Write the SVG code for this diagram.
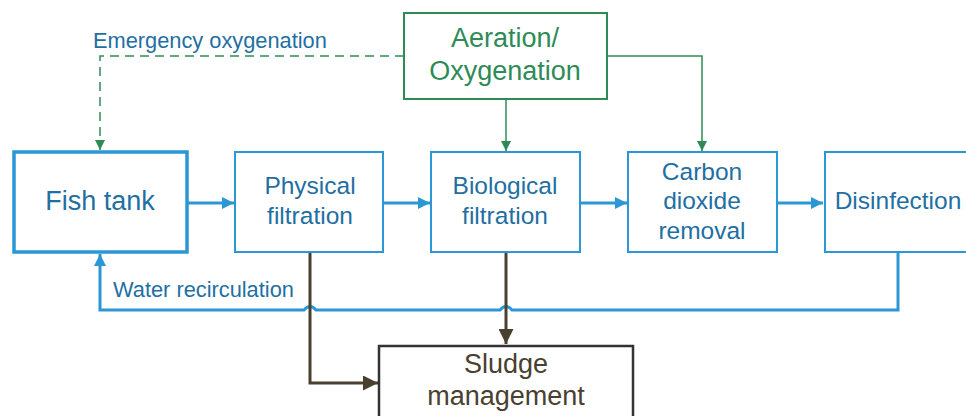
<svg xmlns="http://www.w3.org/2000/svg" width="966" height="416" viewBox="0 0 966 416">
<defs>
<marker id="ab" viewBox="0 0 10 10" refX="10" refY="5" markerWidth="4" markerHeight="4" markerUnits="strokeWidth" orient="auto"><path d="M0,0 L10,5 L0,10 z" fill="#2b97d5"/></marker>
<marker id="ag" viewBox="0 0 10 10" refX="10" refY="5" markerWidth="7" markerHeight="7" markerUnits="strokeWidth" orient="auto"><path d="M0,0 L10,5 L0,10 z" fill="#2e8b57"/></marker>
<marker id="ar" viewBox="0 0 10 10" refX="10" refY="5" markerWidth="5" markerHeight="5" markerUnits="strokeWidth" orient="auto"><path d="M0,0 L10,5 L0,10 z" fill="#4a4030"/></marker>
</defs>
<style>
.bb{fill:#fff;stroke:#2b97d5;stroke-width:2}
.bt{fill:#1f6fa3;font-family:"Liberation Sans",Arial,sans-serif;font-size:24.5px;text-anchor:middle}
.gt{fill:#2e8b57;font-family:"Liberation Sans",Arial,sans-serif;font-size:27px;text-anchor:middle}
.lt{fill:#1f6fa3;font-family:"Liberation Sans",Arial,sans-serif;font-size:21.8px}
.rt{fill:#4a4030;font-family:"Liberation Sans",Arial,sans-serif;font-size:27px;text-anchor:middle}
.cb{fill:none;stroke:#2b97d5;stroke-width:3}
.cg{fill:none;stroke:#2e8b57;stroke-width:1.5}
.cr{fill:none;stroke:#4a4030;stroke-width:3}
</style>
<g id="connectors">
<path class="cg" d="M404,56 H100 V150" stroke-dasharray="9,6" marker-end="url(#ag)"/>
<path class="cg" d="M506,99 V151" marker-end="url(#ag)"/>
<path class="cg" d="M607,56 H702 V151" marker-end="url(#ag)"/>
<path class="cb" d="M188,203 H234" marker-end="url(#ab)"/>
<path class="cb" d="M383,203 H430" marker-end="url(#ab)"/>
<path class="cb" d="M580,203 H627" marker-end="url(#ab)"/>
<path class="cb" d="M777,203 H823" marker-end="url(#ab)"/>
<path class="cb" d="M898,252 V310 H512 Q506,303 500,310 H316 Q310,303 304,310 H100 V254" marker-end="url(#ab)"/>
<path class="cr" d="M310,252 V383 H378" marker-end="url(#ar)"/>
<path class="cr" d="M506,252 V344" marker-end="url(#ar)"/>
</g>
<g id="aeration">
<rect x="404" y="13" width="203" height="86" fill="#fff" stroke="#2e8b57" stroke-width="2"/>
<text class="gt" x="505" y="47">Aeration/</text>
<text class="gt" x="505" y="80">Oxygenation</text>
</g>
<g id="fish-tank">
<rect x="14" y="152" width="173" height="100" fill="#fff" stroke="#2b97d5" stroke-width="3.5"/>
<text class="bt" x="100" y="210" style="font-size:27px">Fish tank</text>
</g>
<g id="physical">
<rect class="bb" x="235" y="152" width="148" height="100"/>
<text class="bt" x="310" y="194">Physical</text>
<text class="bt" x="310" y="224">filtration</text>
</g>
<g id="biological">
<rect class="bb" x="431" y="152" width="149" height="100"/>
<text class="bt" x="505" y="194">Biological</text>
<text class="bt" x="505" y="224">filtration</text>
</g>
<g id="carbon">
<rect class="bb" x="628" y="152" width="149" height="100"/>
<text class="bt" x="702" y="180">Carbon</text>
<text class="bt" x="702" y="209">dioxide</text>
<text class="bt" x="702" y="239">removal</text>
</g>
<g id="disinfection">
<rect class="bb" x="825" y="152" width="160" height="100"/>
<text class="bt" x="898" y="209">Disinfection</text>
</g>
<g id="sludge">
<rect x="379" y="346" width="254" height="90" fill="#fff" stroke="#333" stroke-width="2.5"/>
<text class="rt" x="506" y="373">Sludge</text>
<text class="rt" x="506" y="405">management</text>
</g>
<g id="labels">
<text class="lt" x="93" y="48">Emergency oxygenation</text>
<text class="lt" x="113" y="297">Water recirculation</text>
</g>
</svg>
